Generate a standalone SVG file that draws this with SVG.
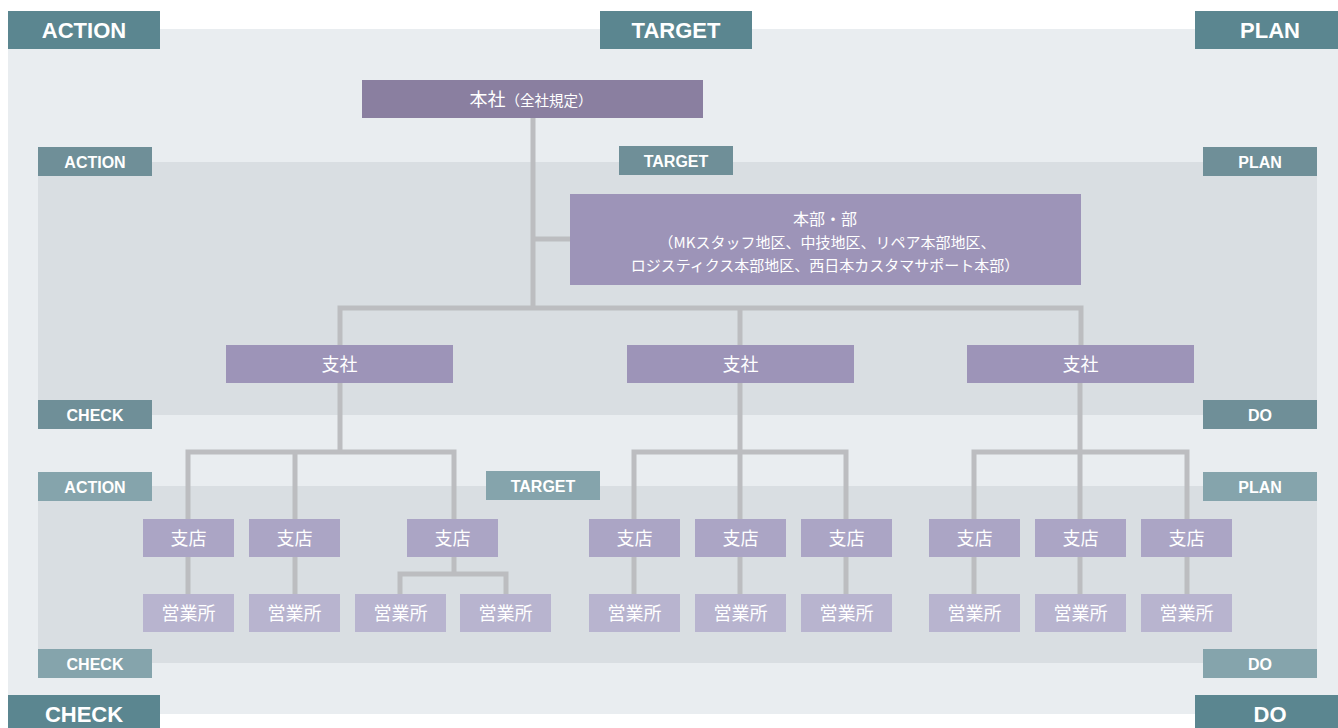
<svg xmlns="http://www.w3.org/2000/svg" width="1338" height="728" viewBox="0 0 1338 728">
<style>
.lbl{fill:#ffffff;font-family:"Liberation Sans",Arial,sans-serif;font-weight:bold;text-anchor:middle}
.big{font-size:22px}
.sm{font-size:16px}
.b1{fill:#5b8690}
.b2{fill:#6f8f98}
.b3{fill:#85a4ac}
.jp{fill:#ffffff;font-family:"Noto Sans CJK JP","Noto Sans CJK SC",sans-serif;text-anchor:middle}
.n0{fill:#8a7fa0}
.n1{fill:#9d94b8}
.n2{fill:#aba5c5}
.n3{fill:#b8b4cf}
.conn{fill:none;stroke:#bcbdc0;stroke-width:5}
</style>
<g id="backgrounds">
<rect x="8" y="29" width="1330" height="685" fill="#e9edf0"/>
<rect x="38" y="162" width="1279" height="253" fill="#d9dee2"/>
<rect x="38" y="486" width="1279" height="177" fill="#d9dee2"/>
</g>
<g id="labels-outer">
<rect class="b1" x="8" y="11" width="152" height="38"/><text class="lbl big" x="84" y="38">ACTION</text>
<rect class="b1" x="600" y="11" width="152" height="38"/><text class="lbl big" x="676" y="38">TARGET</text>
<rect class="b1" x="1195" y="11" width="143" height="38"/><text class="lbl big" x="1270" y="38">PLAN</text>
<rect class="b1" x="8" y="695" width="152" height="33"/><text class="lbl big" x="84" y="722">CHECK</text>
<rect class="b1" x="1195" y="695" width="143" height="33"/><text class="lbl big" x="1270" y="722">DO</text>
</g>
<g id="labels-middle">
<rect class="b2" x="38" y="147" width="114" height="29"/><text class="lbl sm" x="95" y="167.5">ACTION</text>
<rect class="b2" x="619" y="146" width="114" height="29"/><text class="lbl sm" x="676" y="166.5">TARGET</text>
<rect class="b2" x="1203" y="147" width="114" height="29"/><text class="lbl sm" x="1260" y="167.5">PLAN</text>
<rect class="b2" x="38" y="400" width="114" height="29"/><text class="lbl sm" x="95" y="420.5">CHECK</text>
<rect class="b2" x="1203" y="400" width="114" height="29"/><text class="lbl sm" x="1260" y="420.5">DO</text>
</g>
<g id="labels-inner">
<rect class="b3" x="38" y="472" width="114" height="29"/><text class="lbl sm" x="95" y="492.5">ACTION</text>
<rect class="b3" x="486" y="471" width="114" height="29"/><text class="lbl sm" x="543" y="491.5">TARGET</text>
<rect class="b3" x="1203" y="472" width="114" height="29"/><text class="lbl sm" x="1260" y="492.5">PLAN</text>
<rect class="b3" x="38" y="649" width="114" height="29"/><text class="lbl sm" x="95" y="669.5">CHECK</text>
<rect class="b3" x="1203" y="649" width="114" height="29"/><text class="lbl sm" x="1260" y="669.5">DO</text>
</g>
<g id="connectors" class="conn">
<path d="M533 118 V308 M533 239 H570"/>
<path d="M340 345 V308 H1081 V345 M740 308 V345"/>
<path d="M340 383 V452 M188 519 V452 H454 V519 M295 452 V519"/>
<path d="M740 383 V519 M634 519 V452 H846 V519"/>
<path d="M1080 383 V519 M974 519 V452 H1187 V519"/>
<path d="M188 557 V594 M295 557 V594 M454 557 V574 M400 594 V574 H506 V594"/>
<path d="M634 557 V594 M740 557 V594 M846 557 V594"/>
<path d="M974 557 V594 M1080 557 V594 M1187 557 V594"/>
</g>
<g id="node-honsha">
<rect class="n0" x="362" y="80" width="341" height="38"/>
<text class="jp" x="531" y="105.5"><tspan font-size="18">本社</tspan><tspan font-size="14.5">（全社規定）</tspan></text>
</g>
<g id="node-honbu">
<rect class="n1" x="570" y="194" width="511" height="91"/>
<text class="jp" x="825" y="225" font-size="16">本部・部</text>
<text class="jp" x="827" y="248" font-size="15">（MKスタッフ地区、中技地区、リペア本部地区、</text>
<text class="jp" x="825" y="271" font-size="15">ロジスティクス本部地区、西日本カスタマサポート本部）</text>
</g>
<g id="node-shisha-1"><rect class="n1" x="226" y="345" width="227" height="38"/><text class="jp" x="339.5" y="370.5" font-size="18">支社</text></g>
<g id="node-shisha-2"><rect class="n1" x="627" y="345" width="227" height="38"/><text class="jp" x="740.5" y="370.5" font-size="18">支社</text></g>
<g id="node-shisha-3"><rect class="n1" x="967" y="345" width="227" height="38"/><text class="jp" x="1080.5" y="370.5" font-size="18">支社</text></g>
<g id="node-shiten-1"><rect class="n2" x="143" y="519" width="91" height="38"/><text class="jp" x="188.5" y="544.5" font-size="18">支店</text></g>
<g id="node-shiten-2"><rect class="n2" x="249" y="519" width="91" height="38"/><text class="jp" x="294.5" y="544.5" font-size="18">支店</text></g>
<g id="node-shiten-3"><rect class="n2" x="407" y="519" width="91" height="38"/><text class="jp" x="452.5" y="544.5" font-size="18">支店</text></g>
<g id="node-shiten-4"><rect class="n2" x="589" y="519" width="91" height="38"/><text class="jp" x="634.5" y="544.5" font-size="18">支店</text></g>
<g id="node-shiten-5"><rect class="n2" x="695" y="519" width="91" height="38"/><text class="jp" x="740.5" y="544.5" font-size="18">支店</text></g>
<g id="node-shiten-6"><rect class="n2" x="801" y="519" width="91" height="38"/><text class="jp" x="846.5" y="544.5" font-size="18">支店</text></g>
<g id="node-shiten-7"><rect class="n2" x="929" y="519" width="91" height="38"/><text class="jp" x="974.5" y="544.5" font-size="18">支店</text></g>
<g id="node-shiten-8"><rect class="n2" x="1035" y="519" width="91" height="38"/><text class="jp" x="1080.5" y="544.5" font-size="18">支店</text></g>
<g id="node-shiten-9"><rect class="n2" x="1141" y="519" width="91" height="38"/><text class="jp" x="1186.5" y="544.5" font-size="18">支店</text></g>
<g id="node-eigyo-1"><rect class="n3" x="143" y="594" width="91" height="38"/><text class="jp" x="188.5" y="619.5" font-size="18">営業所</text></g>
<g id="node-eigyo-2"><rect class="n3" x="249" y="594" width="91" height="38"/><text class="jp" x="294.5" y="619.5" font-size="18">営業所</text></g>
<g id="node-eigyo-3"><rect class="n3" x="355" y="594" width="91" height="38"/><text class="jp" x="400.5" y="619.5" font-size="18">営業所</text></g>
<g id="node-eigyo-4"><rect class="n3" x="460" y="594" width="91" height="38"/><text class="jp" x="505.5" y="619.5" font-size="18">営業所</text></g>
<g id="node-eigyo-5"><rect class="n3" x="589" y="594" width="91" height="38"/><text class="jp" x="634.5" y="619.5" font-size="18">営業所</text></g>
<g id="node-eigyo-6"><rect class="n3" x="695" y="594" width="91" height="38"/><text class="jp" x="740.5" y="619.5" font-size="18">営業所</text></g>
<g id="node-eigyo-7"><rect class="n3" x="801" y="594" width="91" height="38"/><text class="jp" x="846.5" y="619.5" font-size="18">営業所</text></g>
<g id="node-eigyo-8"><rect class="n3" x="929" y="594" width="91" height="38"/><text class="jp" x="974.5" y="619.5" font-size="18">営業所</text></g>
<g id="node-eigyo-9"><rect class="n3" x="1035" y="594" width="91" height="38"/><text class="jp" x="1080.5" y="619.5" font-size="18">営業所</text></g>
<g id="node-eigyo-10"><rect class="n3" x="1141" y="594" width="91" height="38"/><text class="jp" x="1186.5" y="619.5" font-size="18">営業所</text></g>
</svg>
